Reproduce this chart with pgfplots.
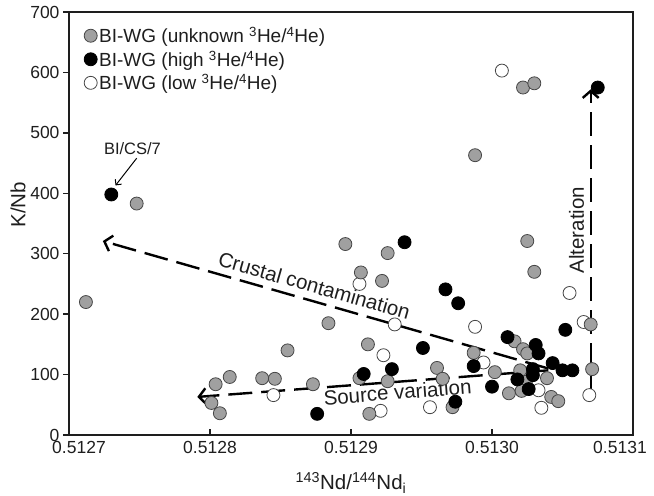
\documentclass[border=0pt]{standalone}
\usepackage{pgfplots}
\pgfplotsset{compat=1.18}
\usepackage{fontspec}
\setmainfont{Liberation Sans}
\usetikzlibrary{arrows.meta}
\definecolor{greyfill}{RGB}{160,160,160}
\definecolor{edgegrey}{RGB}{70,70,70}
\definecolor{axisgrey}{RGB}{30,30,30}

\begin{document}
\begin{tikzpicture}
\begin{axis}[
  scale only axis, width=564pt, height=423pt,
  xmin=0.5127, xmax=0.5131, ymin=0, ymax=700,
  xtick={0.5127,0.5128,0.5129,0.5130,0.5131},
  xticklabels={\hspace*{20pt}0.5127,0.5128,0.5129,0.5130,0.5131\hspace*{26pt}},
  ytick={0,100,200,300,400,500,600,700},
  yticklabels={0,100,200,300,400,500,600,700},
  tick label style={font=\fontsize{17.5}{20}\selectfont, text=axisgrey},
  xticklabel style={yshift=-3pt},
  tick pos=left,
  xtick align=inside, ytick align=outside,
  major tick length=6pt,
  axis line style={line width=1.6pt, axisgrey},
  tick style={line width=1.3pt, axisgrey},
  xlabel={\textsuperscript{143}Nd/\textsuperscript{144}Nd\textsubscript{i}},
  ylabel={K/Nb},
  label style={font=\fontsize{20.5}{24}\selectfont, text=axisgrey},
  xlabel style={at={(axis description cs:0.5,-0.113)}, anchor=center},
  ylabel style={at={(axis description cs:-0.0904,0.544)}, anchor=center},
  legend style={draw=none, fill=none, at={(rel axis cs:0,1)}, anchor=north west,
    xshift=15pt, yshift=-13pt, font=\fontsize{19}{22}\selectfont, row sep=2.5pt,
    inner sep=0pt, text=axisgrey},
  legend cell align=left,
  legend image code/.code={\draw[mark repeat=2,mark phase=2,#1] plot coordinates {(0pt,0pt) (7pt,0pt) (14pt,0pt)};},
  clip=false,
]
\addlegendimage{only marks, mark=*, mark size=6.5pt, mark options={fill=greyfill, draw=edgegrey, line width=0.8pt}}
\addlegendentry{BI-WG (unknown \textsuperscript{3}He/\textsuperscript{4}He)}
\addlegendimage{only marks, mark=*, mark size=6.5pt, mark options={fill=black, draw=black, line width=0.8pt}}
\addlegendentry{BI-WG (high \textsuperscript{3}He/\textsuperscript{4}He)}
\addlegendimage{only marks, mark=*, mark size=6.5pt, mark options={fill=white, draw=edgegrey, line width=0.8pt}}
\addlegendentry{BI-WG (low \textsuperscript{3}He/\textsuperscript{4}He)}

% low 3He/4He (open)
\addplot[forget plot, only marks, mark=*, mark size=6.5pt, mark options={fill=white, draw=edgegrey, line width=0.8pt}] coordinates {
(0.512845,66) (0.512906,250) (0.512931,183) (0.512923,132) (0.512921,40)
(0.512956,46) (0.512988,179) (0.512994,120) (0.513007,603) (0.513055,235)
(0.513065,187) (0.513033,74) (0.513035,45) (0.513069,66)
};
% unknown 3He/4He (grey)
\addplot[forget plot, only marks, mark=*, mark size=6.5pt, mark options={fill=greyfill, draw=edgegrey, line width=0.8pt}] coordinates {
(0.512712,220) (0.512748,383) (0.512804,84) (0.512814,96) (0.512801,53)
(0.512807,36) (0.512837,94) (0.512846,93) (0.512855,140) (0.512873,84)
(0.512884,185) (0.512896,316) (0.512907,269) (0.512922,255) (0.512926,301)
(0.512912,150) (0.512906,94) (0.512926,89) (0.512913,35) (0.512961,111)
(0.512965,93) (0.512972,46) (0.512987,136) (0.512988,463) (0.513002,104)
(0.513016,155) (0.513022,142) (0.513025,135) (0.513020,107) (0.513024,88)
(0.513039,94) (0.513012,69) (0.513021,73) (0.513042,63) (0.513047,56)
(0.513070,183) (0.513071,109) (0.513022,575) (0.513030,582) (0.513025,321)
(0.513030,270)
};
% high 3He/4He (black)
\addplot[forget plot, only marks, mark=*, mark size=6.5pt, mark options={fill=black, draw=black, line width=0.8pt}] coordinates {
(0.512730,398) (0.512876,35) (0.512909,101) (0.512929,109) (0.512938,319)
(0.512951,144) (0.512967,241) (0.512976,218) (0.512987,114) (0.512974,55)
(0.513000,80) (0.513011,162) (0.513031,149) (0.513033,135) (0.513052,174)
(0.513043,119) (0.513050,107) (0.513057,107) (0.513029,109) (0.513029,99)
(0.513018,92) (0.513026,76) (0.513075,575)
};

% trend arrows
\draw[line width=2.4pt, dash pattern=on 24pt off 9pt, -{Straight Barb[length=7pt,width=16pt]}]
  (axis cs:0.513040,110) -- (axis cs:0.512724,321);
\draw[line width=2.4pt, dash pattern=on 24pt off 9pt, -{Straight Barb[length=7pt,width=16pt]}]
  (axis cs:0.513040,107) -- (axis cs:0.512791,63);
\draw[line width=2.4pt, dash pattern=on 24pt off 9pt, -{Straight Barb[length=7pt,width=16pt]}]
  (axis cs:0.513070,58) -- (axis cs:0.513070,572);

\node[rotate=-15.9, font=\fontsize{20.5}{24}\selectfont, text=axisgrey] at (axis cs:0.512874,247) {Crustal contamination};
\node[rotate=4.4, font=\fontsize{20.5}{24}\selectfont, text=axisgrey] at (axis cs:0.512933,71) {Source variation};
\node[rotate=90, font=\fontsize{20.5}{24}\selectfont, text=axisgrey] at (axis cs:0.513060,339) {Alteration};
\node[font=\fontsize{16.5}{19}\selectfont, text=axisgrey] at (axis cs:0.512745,474) {BI/CS/7};
\draw[line width=1pt, -{Straight Barb[length=4pt,width=8pt]}] (axis cs:0.512748,458) -- (axis cs:0.512733,413);
\end{axis}
\pgfresetboundingbox
\path[use as bounding box] ([xshift=-69pt,yshift=-61pt]current axis.south west) rectangle ([xshift=21pt,yshift=12pt]current axis.north east);
\end{tikzpicture}
\end{document}
